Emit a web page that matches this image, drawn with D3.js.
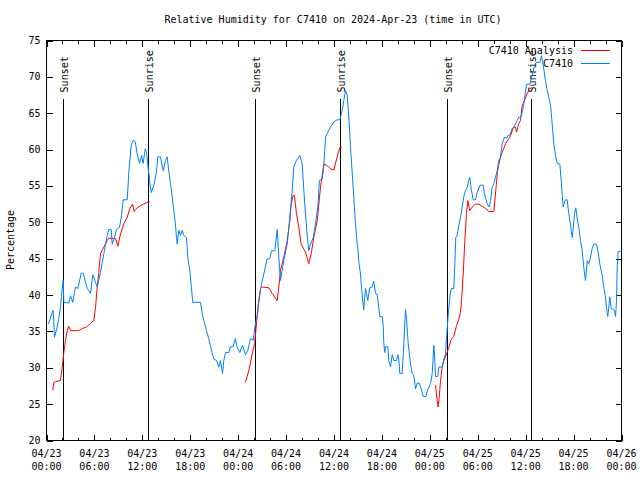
<!DOCTYPE html>
<html><head><meta charset="utf-8">
<script src="https://cdn.jsdelivr.net/npm/d3@7"></script>
<style>
body{margin:0;background:#fff}
svg text{font-family:"DejaVu Sans Mono",monospace;font-size:10px;fill:#000}
</style>
</head><body>
<svg id="c" width="640" height="480"></svg>
<script>
const titleText = "Relative Humidity for C7410 on 2024-Apr-23 (time in UTC)";
const yLabel = "Percentage";
const seriesNames = ["C7410 Analysis", "C7410"];
const seriesColors = ["#ff0000", "#0080ff"];
const yTicks = [20,25,30,35,40,45,50,55,60,65,70,75];
const xTickHours = [0,6,12,18,24,30,36,42,48,54,60,66,72];
const sunHours = [2.09,12.65,26.17,36.69,50.21,60.61];
const sunLabels = ["Sunset","Sunrise","Sunset","Sunrise","Sunset","Sunrise"];
const sunLineTop = 66.9;

// hours since 2024-04-23 00:00 UTC
const obsHours = [0.25,0.71,0.84,1.00,1.34,1.54,1.75,1.97,2.09,2.17,2.79,3.01,3.29,3.63,3.92,4.35,4.60,5.10,5.30,5.51,5.80,6.05,6.35,6.76,7.18,7.60,7.80,8.10,8.23,8.51,8.77,9.14,9.39,9.60,10.11,10.31,10.61,10.86,11.11,11.36,11.65,11.90,12.11,12.36,12.52,12.68,12.90,13.11,13.44,13.74,13.94,14.27,14.61,14.90,15.11,15.31,15.53,15.74,15.94,16.12,16.28,16.37,16.57,16.78,16.99,17.19,17.53,17.69,17.94,18.12,18.32,19.28,19.50,19.70,20.04,20.32,20.62,20.95,21.29,21.58,21.79,22.04,22.20,22.41,22.83,23.04,23.38,23.63,23.88,24.20,24.54,24.92,25.21,25.54,25.88,26.08,26.30,26.42,26.58,26.88,27.21,27.61,27.96,28.17,28.59,28.89,29.09,29.30,29.51,29.71,30.14,30.47,30.77,30.97,31.30,31.72,32.02,32.22,32.43,32.64,32.84,33.06,33.40,33.68,33.97,34.18,34.52,34.72,34.94,35.22,35.56,35.98,36.40,36.73,37.03,37.23,37.44,37.65,37.85,38.07,38.40,38.69,38.90,38.98,39.11,39.32,39.44,39.57,39.66,39.73,39.94,40.07,40.23,40.48,40.78,40.98,41.20,41.41,41.61,41.74,42.04,42.16,42.24,42.36,42.45,42.74,42.86,43.08,43.29,43.49,43.83,43.99,44.11,44.24,44.54,44.74,44.95,45.08,45.29,45.58,45.79,45.99,46.21,46.42,46.67,46.92,47.17,47.50,47.75,48.08,48.30,48.50,48.58,48.71,49.00,49.12,49.55,49.75,49.96,50.15,50.30,50.46,50.59,50.71,51.00,51.13,51.25,51.43,51.63,51.84,52.05,52.25,52.47,52.68,52.88,53.00,53.18,53.43,53.72,53.93,54.26,54.68,54.85,55.19,55.43,55.60,55.81,56.01,56.22,56.44,56.64,56.85,57.06,57.35,57.60,57.76,58.01,58.31,58.52,58.73,58.94,59.14,59.35,59.57,59.77,60.11,60.52,60.82,61.11,61.36,61.77,61.98,62.20,62.48,62.70,62.90,63.11,63.32,63.52,63.74,63.95,64.28,64.45,64.58,64.70,64.86,64.99,65.20,65.40,65.61,65.83,65.95,66.12,66.28,66.45,66.65,66.87,67.08,67.28,67.49,67.71,67.91,68.12,68.33,68.53,68.87,69.08,69.28,69.58,69.78,69.99,70.12,70.28,70.46,70.53,70.71,70.96,71.13,71.25,71.38,71.46,71.59,71.88];
const obsValues = [36.0,37.6,37.9,34.2,35.6,36.8,38.3,40.9,42.0,39.0,38.9,39.9,39.0,41.1,40.9,43.0,43.0,40.9,40.6,40.2,42.8,42.0,41.1,43.1,45.7,48.2,49.0,49.0,47.0,47.9,49.0,49.3,50.9,53.1,53.1,56.9,60.6,61.3,61.1,59.4,58.1,59.2,58.1,60.1,59.7,58.0,55.8,54.1,55.1,56.7,59.0,59.0,57.1,58.5,59.0,57.1,55.3,53.5,51.6,50.0,47.9,47.0,48.9,48.2,48.9,48.2,47.9,45.2,43.4,41.3,39.0,39.0,37.4,36.5,35.1,34.0,32.6,31.2,31.0,30.1,31.0,29.2,31.0,32.1,32.1,32.9,32.9,34.0,32.8,32.1,33.1,31.8,32.4,34.0,33.8,35.4,36.9,37.2,39.0,41.3,42.9,44.9,45.0,46.1,46.1,49.0,45.2,42.0,43.4,44.75,47.0,50.7,54.4,57.7,58.5,59.2,58.0,54.4,51.2,48.2,46.1,47.0,47.9,49.8,52.1,55.75,55.9,57.6,61.7,62.4,63.1,63.8,64.1,64.1,65.4,66.75,68.1,67.5,64.5,60.3,54.8,49.8,47.0,46.6,44.5,42.9,41.1,39.5,38.6,38.0,40.9,40.2,39.25,41.0,41.1,41.9,40.2,40.1,38.3,37.05,37.05,35.8,33.3,32.1,32.9,32.9,31.0,30.1,31.8,31.0,31.0,31.8,31.2,29.2,29.2,33.3,38.0,36.8,33.3,30.55,29.2,29.0,27.1,27.9,27.9,27.1,26.05,26.05,27.0,27.8,29.2,33.1,31.9,28.8,28.8,30.1,30.1,31.2,31.9,35.0,37.2,39.25,40.4,40.9,40.9,44.3,47.9,48.2,49.6,50.7,52.1,53.5,54.4,54.8,55.85,56.2,54.6,53.1,53.1,54.1,55.1,55.1,53.9,52.5,52.1,53.0,54.8,55.3,56.2,57.1,58.5,59.0,60.8,61.7,61.6,61.9,62.0,62.9,63.1,63.55,64.0,64.5,64.4,65.1,66.3,69.0,69.0,70.2,71.6,72.0,72.0,72.9,71.6,69.5,68.1,67.2,66.1,63.55,60.8,59.2,58.1,58.0,55.75,53.7,52.1,52.8,53.1,53.1,51.2,49.6,47.9,49.1,51.2,52.0,50.5,49.3,47.5,46.1,43.8,42.0,44.75,44.3,45.2,46.4,47.0,47.0,45.9,44.3,42.7,41.1,39.7,38.3,37.05,38.8,39.75,38.1,38.1,37.8,37.05,39.25,43.8,46.0,46.0];

// analysis: null separates the three daily runs
const anaHours = [0.79,0.91,1.13,1.75,1.97,2.17,2.38,2.59,2.79,3.01,4.04,4.47,5.01,5.51,5.92,6.14,6.35,6.55,6.76,7.18,7.60,7.80,8.64,8.93,9.27,9.68,10.11,10.43,10.77,10.98,11.36,11.77,12.18,12.61,12.94,
 null,
 24.92,25.33,25.76,26.05,26.26,26.46,26.80,27.01,27.84,28.26,28.89,29.09,29.30,29.71,30.14,30.47,30.64,30.89,31.05,31.30,31.59,31.89,32.43,32.84,33.15,33.47,33.90,34.31,34.72,35.15,35.56,35.98,36.40,36.73,36.98,
 null,
 48.71,48.92,49.05,49.21,49.34,49.55,49.75,50.09,50.38,50.71,51.00,51.34,51.63,51.84,51.97,52.18,52.38,52.59,52.76,53.00,53.31,53.72,54.13,54.56,54.97,55.38,56.01,56.22,56.44,56.64,56.85,57.06,57.48,57.76,58.10,58.44,58.73,58.85,59.14,59.35,59.57,59.85,60.19,60.52,60.82];
const anaValues = [26.9,28.0,28.1,28.25,30.1,32.1,33.75,35.1,35.7,35.1,35.1,35.4,35.6,36.1,36.5,38.3,41.1,43.1,45.7,46.6,47.5,47.8,47.8,46.7,48.4,49.8,50.7,51.9,52.5,51.5,52.0,52.3,52.5,52.75,52.8,
 null,
 28.0,29.6,31.9,33.3,35.6,38.3,40.9,41.1,41.0,40.2,39.25,41.1,43.4,45.2,47.5,50.25,52.5,53.7,53.7,51.2,49.3,47.0,45.9,44.3,45.7,47.9,50.25,54.8,58.0,57.8,57.35,57.2,59.0,60.3,60.3,
 null,
 27.6,25.5,24.6,26.4,28.25,30.1,31.0,31.9,32.8,34.0,34.3,35.8,36.7,37.6,39.25,42.9,47.5,51.2,53.0,51.6,52.1,52.5,52.5,52.2,51.9,51.5,51.5,53.9,56.7,58.0,59.0,59.6,60.8,61.3,61.9,63.0,63.1,62.4,63.55,64.0,66.1,66.75,67.7,68.4,68.5];

const T0 = Date.UTC(2024,3,23);
const toDate = h => new Date(T0 + h*3600e3);

const L = 46.5, R = 621.5, T = 40.5, B = 440.5;
const svg = d3.select("#c");
const x = d3.scaleUtc().domain([toDate(0), toDate(72)]).range([L, R]);
const y = d3.scaleLinear().domain([20, 75]).range([B, T]);

// title
svg.append("text").attr("x", 333).attr("y", 23).attr("text-anchor","middle").text(titleText);
// y label
svg.append("text").attr("transform","translate(14,240) rotate(-90)").attr("text-anchor","middle").text(yLabel);

// frame
svg.append("rect").attr("x",L).attr("y",T).attr("width",R-L).attr("height",B-T)
  .attr("fill","none").attr("stroke","#000").attr("stroke-width",1);

const minorHours = d3.range(0, 73, 2).filter(h => h % 6 !== 0);
function styleAxis(g){ g.select(".domain").remove(); g.selectAll("line").attr("stroke","#000").attr("shape-rendering","crispEdges"); }

svg.append("g").attr("transform",`translate(0,${B})`)
  .call(d3.axisBottom(x).tickValues(xTickHours.map(toDate)).tickSize(-6).tickFormat(""))
  .call(styleAxis);
svg.append("g").attr("transform",`translate(0,${B})`)
  .call(d3.axisBottom(x).tickValues(minorHours.map(toDate)).tickSize(-3).tickFormat(""))
  .call(styleAxis);
svg.append("g").attr("transform",`translate(0,${T})`)
  .call(d3.axisTop(x).tickValues(xTickHours.map(toDate)).tickSize(-6).tickFormat(""))
  .call(styleAxis);
svg.append("g").attr("transform",`translate(0,${T})`)
  .call(d3.axisTop(x).tickValues(minorHours.map(toDate)).tickSize(-3).tickFormat(""))
  .call(styleAxis);
svg.append("g").attr("transform",`translate(${L},0)`)
  .call(d3.axisLeft(y).tickValues(yTicks).tickSize(-6).tickPadding(0).tickFormat(""))
  .call(styleAxis);
svg.append("g").attr("transform",`translate(${R},0)`)
  .call(d3.axisRight(y).tickValues(yTicks).tickSize(-6).tickFormat(""))
  .call(styleAxis);

// y tick labels
svg.append("g").selectAll("text").data(yTicks).join("text")
  .attr("x", 40.5).attr("y", d => y(d) + 3.5).attr("text-anchor","end").text(d => d);

// x tick labels
const fmtD = d3.utcFormat("%m/%d"), fmtT = d3.utcFormat("%H:%M");
const xl = svg.append("g").selectAll("text").data(xTickHours.map(toDate)).join("text")
  .attr("text-anchor","middle");
xl.append("tspan").attr("x", d => x(d)).attr("y", 457).attr("text-anchor","middle").text(d => fmtD(d));
xl.append("tspan").attr("x", d => x(d)).attr("y", 470).attr("text-anchor","middle").text(d => fmtT(d));

// sunrise / sunset lines
const sun = sunHours.map((h,i) => ({t: toDate(h), label: sunLabels[i]}));
svg.append("g").selectAll("line").data(sun).join("line")
  .attr("x1", d => Math.round(x(d.t)) + 0.5).attr("x2", d => Math.round(x(d.t)) + 0.5)
  .attr("y1", y(20)).attr("y2", y(sunLineTop))
  .attr("stroke","#000").attr("stroke-width",1).attr("shape-rendering","crispEdges");
svg.append("g").selectAll("text").data(sun).join("text")
  .attr("transform", d => `translate(${Math.round(x(d.t)) + 4.5},${y(sunLineTop) - 7}) rotate(-90)`)
  .attr("text-anchor","start").text(d => d.label);

// series
const line = d3.line().defined(d => d.v !== null).x(d => x(d.t)).y(d => y(d.v));
const ana = anaHours.map((h,i) => ({t: h === null ? null : toDate(h), v: anaValues[i]}));
const obs = obsHours.map((h,i) => ({t: toDate(h), v: obsValues[i]}));
const plot = svg.append("g");
plot.append("path").datum(ana).attr("d", line).attr("fill","none")
  .attr("stroke", seriesColors[0]).attr("stroke-width",1);
plot.append("path").datum(obs).attr("d", line).attr("fill","none")
  .attr("stroke", seriesColors[1]).attr("stroke-width",1);

// legend
const lg = svg.append("g");
seriesNames.forEach((n,i) => {
  const yy = 50.5 + i*12.5;
  lg.append("text").attr("x", 573).attr("y", yy + 3.5).attr("text-anchor","end").text(n);
  lg.append("line").attr("x1", 581).attr("x2", 610).attr("y1", yy).attr("y2", yy)
    .attr("stroke", seriesColors[i]).attr("stroke-width",1).attr("shape-rendering","crispEdges");
});
</script>
</body></html>
